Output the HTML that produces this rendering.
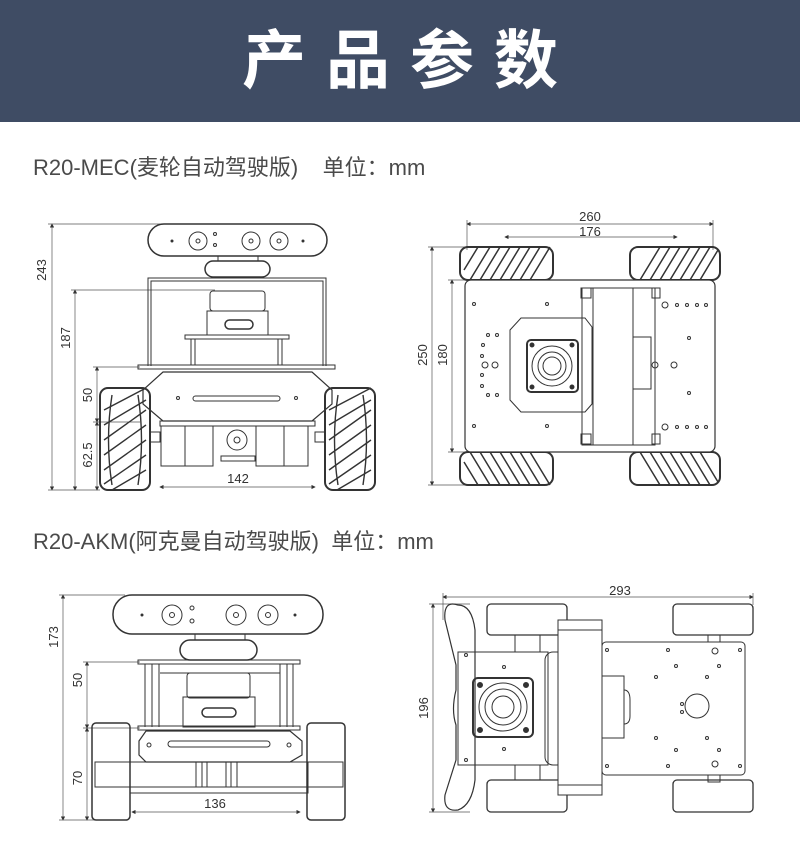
<!DOCTYPE html>
<html><head><meta charset="utf-8"><style>
html,body{margin:0;padding:0;background:#fff;width:800px;height:848px;overflow:hidden}
.hdr{position:absolute;left:0;top:0;width:800px;height:122px;background:#3f4c64;color:#fff;font-family:"Liberation Sans","Noto Sans CJK SC",sans-serif;font-weight:bold;font-size:64px;text-align:center;line-height:122px;letter-spacing:20px;text-indent:20px}
.lbl{position:absolute;left:33px;font-family:"Liberation Sans","Noto Sans CJK SC",sans-serif;font-size:22px;color:#4a4a4a}
svg{position:absolute;left:0;top:0}
</style></head><body>
<div class="hdr">产品参数</div>
<div class="lbl" style="top:150px">R20-MEC(麦轮自动驾驶版)&nbsp;&nbsp;&nbsp;&nbsp;单位：mm</div>
<div class="lbl" style="top:524px">R20-AKM(阿克曼自动驾驶版)&nbsp;&nbsp;单位：mm</div>
<svg width="800" height="848" viewBox="0 0 800 848" font-family="Liberation Sans, sans-serif" font-size="12" fill="none" stroke="#333" stroke-width="1">
<defs><marker id="a" markerWidth="6" markerHeight="6" refX="5" refY="3" orient="auto-start-reverse"><path d="M0,0 L6,3 L0,6 z" fill="#333" stroke="none"/></marker></defs>
<g stroke="#555" stroke-width="0.7">
<line x1="52" y1="224" x2="52" y2="490" marker-start="url(#a)" marker-end="url(#a)"/>
<line x1="48" y1="224" x2="160" y2="224"/><line x1="48" y1="490" x2="100" y2="490"/>
<line x1="75" y1="290" x2="75" y2="490" marker-start="url(#a)" marker-end="url(#a)"/>
<line x1="71" y1="290" x2="215" y2="290"/>
<line x1="97" y1="367" x2="97" y2="422" marker-start="url(#a)" marker-end="url(#a)"/>
<line x1="97" y1="422" x2="97" y2="490" marker-start="url(#a)" marker-end="url(#a)"/>
<line x1="93" y1="367" x2="140" y2="367"/><line x1="93" y1="422" x2="140" y2="422"/>
<line x1="160" y1="487" x2="315" y2="487" marker-start="url(#a)" marker-end="url(#a)"/>
<line x1="467" y1="224" x2="713" y2="224" marker-start="url(#a)" marker-end="url(#a)"/>
<line x1="467" y1="220" x2="467" y2="250"/><line x1="713" y1="220" x2="713" y2="250"/>
<line x1="505" y1="237" x2="677" y2="237" marker-start="url(#a)" marker-end="url(#a)"/>
<line x1="432" y1="247" x2="432" y2="485" marker-start="url(#a)" marker-end="url(#a)"/>
<line x1="428" y1="247" x2="465" y2="247"/><line x1="428" y1="485" x2="465" y2="485"/>
<line x1="452" y1="280" x2="452" y2="452" marker-start="url(#a)" marker-end="url(#a)"/>
<line x1="448" y1="280" x2="465" y2="280"/><line x1="448" y1="452" x2="465" y2="452"/>
<line x1="63" y1="595" x2="63" y2="820" marker-start="url(#a)" marker-end="url(#a)"/>
<line x1="59" y1="595" x2="125" y2="595"/><line x1="59" y1="820" x2="95" y2="820"/>
<line x1="87" y1="662" x2="87" y2="728" marker-start="url(#a)" marker-end="url(#a)"/>
<line x1="87" y1="728" x2="87" y2="820" marker-start="url(#a)" marker-end="url(#a)"/>
<line x1="83" y1="662" x2="140" y2="662"/><line x1="83" y1="728" x2="140" y2="728"/>
<line x1="132" y1="812" x2="300" y2="812" marker-start="url(#a)" marker-end="url(#a)"/>
<line x1="443" y1="597" x2="753" y2="597" marker-start="url(#a)" marker-end="url(#a)"/>
<line x1="443" y1="593" x2="443" y2="620"/><line x1="753" y1="593" x2="753" y2="605"/>
<line x1="433" y1="604" x2="433" y2="812" marker-start="url(#a)" marker-end="url(#a)"/>
<line x1="429" y1="604" x2="470" y2="604"/><line x1="429" y1="812" x2="470" y2="812"/>
</g>
<g fill="#333" stroke="none" font-size="13">
<text x="46" y="270" transform="rotate(-90 46 270)" text-anchor="middle">243</text>
<text x="70" y="338" transform="rotate(-90 70 338)" text-anchor="middle">187</text>
<text x="92" y="395" transform="rotate(-90 92 395)" text-anchor="middle">50</text>
<text x="92" y="455" transform="rotate(-90 92 455)" text-anchor="middle">62.5</text>
<text x="238" y="483" text-anchor="middle">142</text>
<text x="590" y="221" text-anchor="middle">260</text>
<text x="590" y="236" text-anchor="middle">176</text>
<text x="427" y="355" transform="rotate(-90 427 355)" text-anchor="middle">250</text>
<text x="447" y="355" transform="rotate(-90 447 355)" text-anchor="middle">180</text>
<text x="58" y="637" transform="rotate(-90 58 637)" text-anchor="middle">173</text>
<text x="82" y="680" transform="rotate(-90 82 680)" text-anchor="middle">50</text>
<text x="82" y="778" transform="rotate(-90 82 778)" text-anchor="middle">70</text>
<text x="215" y="808" text-anchor="middle">136</text>
<text x="620" y="595" text-anchor="middle">293</text>
<text x="428" y="708" transform="rotate(-90 428 708)" text-anchor="middle">196</text>
</g>

<g>
<rect x="148" y="224" width="179" height="32" rx="16" stroke-width="1.5"/>
<circle cx="198" cy="241" r="9"/><circle cx="198" cy="241" r="2"/>
<circle cx="251" cy="241" r="9"/><circle cx="251" cy="241" r="2"/>
<circle cx="279" cy="241" r="9"/><circle cx="279" cy="241" r="2"/>
<circle cx="215" cy="234" r="1.5"/><circle cx="215" cy="245" r="1.5"/>
<circle cx="172" cy="241" r="1" fill="#333"/><circle cx="303" cy="241" r="1" fill="#333"/>
<rect x="218" y="256" width="40" height="5"/>
<rect x="205" y="261" width="65" height="16" rx="8" stroke-width="1.5"/>
<path d="M148 366 V278 H326 V366"/><path d="M151 366 V281 H323 V366"/>
<rect x="138" y="365" width="197" height="4"/>
<rect x="210" y="291" width="55" height="20" rx="3"/>
<rect x="207" y="311" width="61" height="24"/>
<rect x="225" y="320" width="28" height="9" rx="4.5" stroke-width="1.5"/>
<rect x="185" y="335" width="104" height="4"/>
<path d="M191 339 V365 M195 339 V365 M278 339 V365 M282 339 V365"/>
<path d="M163 372 H312 L332 390 V404 L312 421 H163 L143 404 V390 Z" stroke-width="1.2"/>
<rect x="193" y="396" width="87" height="5" rx="2.5"/>
<circle cx="178" cy="398" r="1.5"/><circle cx="296" cy="398" r="1.5"/>
<rect x="160" y="421" width="155" height="5"/>
<rect x="161" y="426" width="52" height="40"/><rect x="185" y="426" width="28" height="40"/>
<rect x="256" y="426" width="52" height="40"/><rect x="256" y="426" width="28" height="40"/>
<circle cx="237" cy="440" r="10"/><circle cx="237" cy="440" r="3"/>
<rect x="221" y="456" width="34" height="5"/>
<rect x="100" y="388" width="50" height="102" rx="8" stroke-width="2"/>
<rect x="325" y="388" width="50" height="102" rx="8" stroke-width="2"/>
<g stroke-width="1.4">
<path d="M104 410 L146 388 M104 425 L146 400 M104 440 L146 410 M104 455 L146 425 M104 470 L146 440 M104 484 L146 455 M112 490 L146 470"/>
<path d="M329 410 L371 388 M329 425 L371 400 M329 440 L371 410 M329 455 L371 425 M329 470 L371 440 M329 484 L371 455 M337 490 L371 470"/>
<path d="M112 395 Q105 440 112 485 M138 395 Q145 440 138 485 M338 395 Q331 440 338 485 M363 395 Q370 440 363 485"/>
</g>
<rect x="150" y="432" width="10" height="10"/><rect x="315" y="432" width="10" height="10"/>
</g>

<g>
<g stroke-width="1.5">
<rect x="460" y="247" width="93" height="33" rx="8" stroke-width="2"/><rect x="630" y="247" width="90" height="33" rx="8" stroke-width="2"/>
<rect x="460" y="452" width="93" height="33" rx="8" stroke-width="2"/><rect x="630" y="452" width="90" height="33" rx="8" stroke-width="2"/>
<path d="M464 270 L478 247 M470 280 L490 247 M480 280 L500 247 M490 280 L510 247 M500 280 L520 247 M510 280 L530 247 M520 280 L540 247 M530 280 L550 247 M640 280 L660 247 M650 280 L670 247 M660 280 L680 247 M670 280 L690 247 M680 280 L700 247 M690 280 L710 247 M700 280 L718 250"/>
<path d="M464 462 L478 485 M470 452 L490 485 M480 452 L500 485 M490 452 L510 485 M500 452 L520 485 M510 452 L530 485 M520 452 L540 485 M530 452 L550 485 M640 452 L660 485 M650 452 L670 485 M660 452 L680 485 M670 452 L690 485 M680 452 L700 485 M690 452 L710 485 M700 452 L718 482"/>
</g>
<rect x="465" y="280" width="250" height="172" rx="6" fill="#fff" stroke-width="1.2"/>
<path d="M510 330 L521 318 H585 L592 327 V404 L585 412 H521 L510 400 Z"/>
<rect x="527" y="340" width="51" height="52" rx="4" stroke-width="2"/>
<circle cx="552" cy="366" r="20"/><circle cx="552" cy="366" r="14"/><circle cx="552" cy="366" r="9"/>
<circle cx="532" cy="345" r="2" fill="#333"/><circle cx="572" cy="345" r="2" fill="#333"/><circle cx="532" cy="387" r="2" fill="#333"/><circle cx="572" cy="387" r="2" fill="#333"/>
<rect x="582" y="288" width="73" height="157"/>
<rect x="593" y="288" width="40" height="157"/>
<rect x="633" y="337" width="18" height="52"/>
<rect x="581" y="288" width="10" height="10"/><rect x="652" y="288" width="8" height="10"/>
<rect x="581" y="434" width="10" height="10"/><rect x="652" y="434" width="8" height="10"/>
<g>
<circle cx="474" cy="304" r="1.5"/><circle cx="547" cy="304" r="1.5"/><circle cx="474" cy="426" r="1.5"/><circle cx="547" cy="426" r="1.5"/>
<circle cx="488" cy="335" r="1.5"/><circle cx="497" cy="335" r="1.5"/><circle cx="483" cy="345" r="1.5"/><circle cx="482" cy="356" r="1.5"/>
<circle cx="485" cy="365" r="3"/><circle cx="495" cy="365" r="3"/><circle cx="482" cy="375" r="1.5"/><circle cx="482" cy="386" r="1.5"/><circle cx="488" cy="395" r="1.5"/><circle cx="497" cy="395" r="1.5"/>
<circle cx="665" cy="305" r="3"/><circle cx="677" cy="305" r="1.5"/><circle cx="687" cy="305" r="1.5"/><circle cx="697" cy="305" r="1.5"/><circle cx="706" cy="305" r="1.5"/>
<circle cx="665" cy="427" r="3"/><circle cx="677" cy="427" r="1.5"/><circle cx="687" cy="427" r="1.5"/><circle cx="697" cy="427" r="1.5"/><circle cx="706" cy="427" r="1.5"/>
<circle cx="689" cy="338" r="1.5"/><circle cx="689" cy="393" r="1.5"/><circle cx="655" cy="365" r="3"/><circle cx="674" cy="365" r="3"/>
</g>
</g>

<g>
<rect x="113" y="595" width="210" height="39" rx="19" stroke-width="1.5"/>
<circle cx="172" cy="615" r="10"/><circle cx="172" cy="615" r="2.5"/>
<circle cx="236" cy="615" r="10"/><circle cx="236" cy="615" r="2.5"/>
<circle cx="268" cy="615" r="10"/><circle cx="268" cy="615" r="2.5"/>
<circle cx="192" cy="608" r="2"/><circle cx="192" cy="621" r="2"/>
<circle cx="142" cy="615" r="1" fill="#333"/><circle cx="295" cy="615" r="1" fill="#333"/>
<rect x="195" y="634" width="50" height="6"/>
<rect x="180" y="640" width="77" height="20" rx="10" stroke-width="1.5"/>
<rect x="138" y="660" width="162" height="4"/>
<path d="M145 664 V727 M152 664 V727 M159 664 V727 M280 664 V727 M287 664 V727 M293 664 V727 M160 673 H280"/>
<rect x="187" y="673" width="63" height="25" rx="3"/>
<rect x="183" y="697" width="72" height="30"/>
<rect x="202" y="708" width="34" height="9" rx="4.5" stroke-width="1.5"/>
<rect x="138" y="726" width="162" height="4"/>
<path d="M146 731 H290 L302 741 V755 L290 762 H146 L139 755 V741 Z" stroke-width="1.2"/>
<rect x="168" y="741" width="102" height="6" rx="3"/>
<circle cx="149" cy="745" r="2"/><circle cx="289" cy="745" r="2"/>
<rect x="95" y="762" width="248" height="25"/>
<rect x="130" y="762" width="178" height="25"/>
<path d="M196 762 V787 M202 762 V787 M207 762 V787 M226 762 V787 M231 762 V787 M237 762 V787"/>
<rect x="130" y="787" width="178" height="6"/>
<rect x="92" y="723" width="38" height="97" rx="4" stroke-width="1.5"/>
<rect x="307" y="723" width="38" height="97" rx="4" stroke-width="1.5"/>
</g>

<g>
<path d="M458 605 Q443 600 445 620 L456 665 V690 Q451 710 456 725 V760 L445 795 Q443 812 458 810 Q472 805 475 780 V630 Q472 605 458 605 Z" stroke-width="1.2"/>
<rect x="487" y="604" width="80" height="31" rx="4" stroke-width="1.3"/>
<rect x="487" y="780" width="80" height="32" rx="4" stroke-width="1.3"/>
<rect x="673" y="604" width="80" height="31" rx="4" stroke-width="1.3"/>
<rect x="673" y="780" width="80" height="32" rx="4" stroke-width="1.3"/>
<path d="M515 635 V652 M540 635 V652 M515 765 V780 M540 765 V780"/>
<rect x="458" y="652" width="90" height="113"/>
<rect x="473" y="678" width="60" height="59" rx="5" stroke-width="2"/>
<circle cx="503" cy="707" r="24"/><circle cx="503" cy="707" r="18"/><circle cx="503" cy="707" r="11"/>
<circle cx="480" cy="685" r="2.5" fill="#333"/><circle cx="526" cy="685" r="2.5" fill="#333"/><circle cx="480" cy="730" r="2.5" fill="#333"/><circle cx="526" cy="730" r="2.5" fill="#333"/>
<rect x="545" y="652" width="20" height="113" rx="8"/>
<rect x="602" y="642" width="143" height="133" rx="4"/>
<rect x="602" y="676" width="22" height="62"/>
<path d="M624 690 Q630 690 630 700 V716 Q630 724 624 724"/>
<circle cx="697" cy="706" r="12"/>
<rect x="558" y="620" width="44" height="175" fill="#fff"/>
<path d="M558 630 H602 M558 785 H602"/>
<rect x="708" y="635" width="12" height="7"/><rect x="708" y="775" width="12" height="7"/>
<g>
<circle cx="466" cy="655" r="1.5"/><circle cx="466" cy="760" r="1.5"/><circle cx="504" cy="667" r="1.5"/><circle cx="504" cy="749" r="1.5"/>
<circle cx="607" cy="650" r="1.5"/><circle cx="668" cy="650" r="1.5"/><circle cx="740" cy="650" r="1.5"/><circle cx="715" cy="651" r="3"/>
<circle cx="607" cy="766" r="1.5"/><circle cx="668" cy="766" r="1.5"/><circle cx="740" cy="766" r="1.5"/><circle cx="715" cy="764" r="3"/>
<circle cx="676" cy="666" r="1.5"/><circle cx="719" cy="666" r="1.5"/><circle cx="656" cy="677" r="1.5"/><circle cx="707" cy="677" r="1.5"/>
<circle cx="676" cy="750" r="1.5"/><circle cx="719" cy="750" r="1.5"/><circle cx="656" cy="738" r="1.5"/><circle cx="707" cy="738" r="1.5"/>
<circle cx="682" cy="704" r="1.5"/><circle cx="682" cy="712" r="1.5"/>
</g>
</g>
</svg>
</body></html>
